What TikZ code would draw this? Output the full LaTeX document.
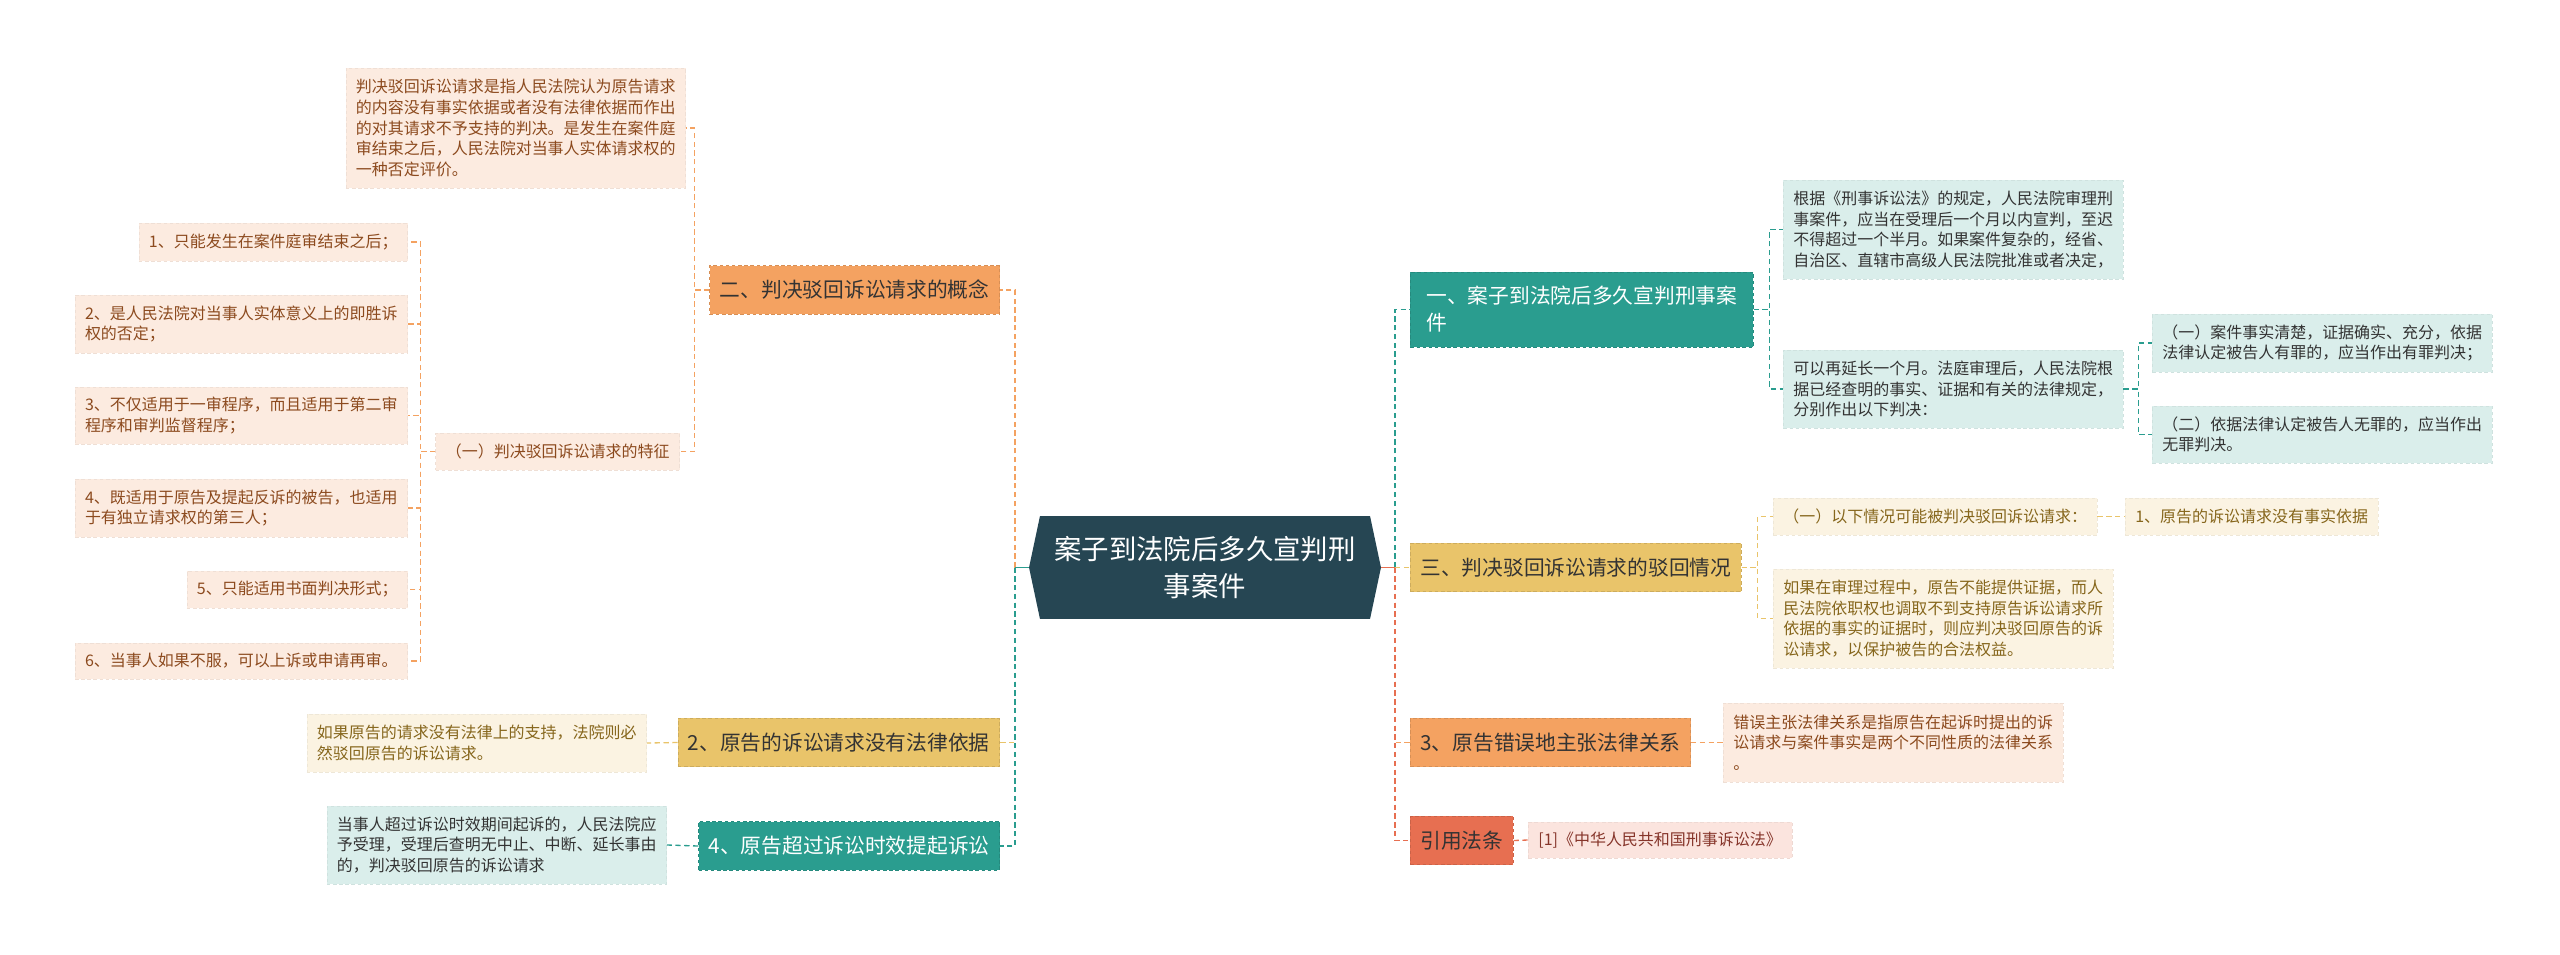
\documentclass[tikz,border=0pt]{standalone}
\usepackage{fontspec}
\setmainfont{Noto Sans CJK SC}
\usepackage{xcolor}
\usepackage{tikz}
\usetikzlibrary{calc}
\usetikzlibrary{shapes.symbols}
\definecolor{cdeep}{HTML}{264653}
\definecolor{cteal}{HTML}{2A9D8F}
\definecolor{cyellow}{HTML}{E9C46A}
\definecolor{corange}{HTML}{F4A261}
\definecolor{cred}{HTML}{E76F51}
\definecolor{lteal}{HTML}{DAEEEB}
\definecolor{lyellow}{HTML}{FBF3E2}
\definecolor{lorange}{HTML}{FCEBE0}
\definecolor{lred}{HTML}{FBE4DE}
\definecolor{tdark}{HTML}{333333}
\definecolor{torange}{HTML}{8C4A1E}
\definecolor{tyellow}{HTML}{86661C}
\definecolor{tred}{HTML}{86352A}
\newcommand{\rootfont}{\fontsize{15.6pt}{21.6pt}\selectfont}
\newcommand{\branchfont}{\fontsize{11.8pt}{15.4pt}\selectfont}
\newcommand{\leaffont}{\fontsize{9.1pt}{11.7pt}\selectfont}
\tikzstyle{topic} = [shape=signal, signal to=west and east,
	signal pointer angle=156,
	fill=cdeep, text=white, font=\rootfont, align=center,
	minimum width=7.04cm,
	minimum height=2.06cm, inner sep=0pt]
\tikzset{
	branch/.style={fill=#1, draw=#1!88!black, dash pattern=on 2pt off 1.5pt,
		line width=0.4pt, text=tdark, font=\branchfont, align=left,
		inner xsep=0.2cm, inner ysep=0pt, minimum height=0.97cm},
	leaf/.style 2 args={fill=#1, draw=#1!95!black, dash pattern=on 2pt off 1.5pt,
		line width=0.4pt, text=#2, font=\leaffont, align=left,
		inner xsep=0.2cm, inner ysep=0pt},
	link/.style={draw=#1, line width=1.1pt, dash pattern=on 3pt off 2pt},
	sublink/.style={draw=#1, line width=0.75pt, dash pattern=on 3pt off 2pt}
}

\begin{document}
\begin{tikzpicture}[x=0.02cm, y=-0.02cm]
	\fill [white] (0,0) rectangle (2560,954);
	\useasboundingbox (0,0) rectangle (2560,954);
	
	\node (root) [topic] at (1205,567.5) {案子到法院后多久宣判刑\\事案件};
	
	% left side
	\node (con) [branch=corange, anchor=east, minimum width=5.8cm] at (1000,290) {二、判决驳回诉讼请求的概念};
	\node (def) [leaf={lorange}{torange}, anchor=east, minimum height=2.4cm] at (686,128)
		{判决驳回诉讼请求是指人民法院认为原告请求\\的内容没有事实依据或者没有法律依据而作出\\的对其请求不予支持的判决。是发生在案件庭\\审结束之后，人民法院对当事人实体请求权的\\一种否定评价。};
	\node (feat) [leaf={lorange}{torange}, anchor=east, minimum height=0.74cm] at (680,451.5) {（一）判决驳回诉讼请求的特征};
	\node (f1) [leaf={lorange}{torange}, anchor=east, minimum height=0.76cm] at (408,242) {1、只能发生在案件庭审结束之后；};
	\node (f2) [leaf={lorange}{torange}, anchor=east, minimum height=1.16cm] at (408,324) {2、是人民法院对当事人实体意义上的即胜诉\\权的否定；};
	\node (f3) [leaf={lorange}{torange}, anchor=east, minimum height=1.14cm] at (408,415.5) {3、不仅适用于一审程序，而且适用于第二审\\程序和审判监督程序；};
	\node (f4) [leaf={lorange}{torange}, anchor=east, minimum height=1.16cm] at (408,508) {4、既适用于原告及提起反诉的被告，也适用\\于有独立请求权的第三人；};
	\node (f5) [leaf={lorange}{torange}, anchor=east, minimum height=0.74cm] at (408,589.5) {5、只能适用书面判决形式；};
	\node (f6) [leaf={lorange}{torange}, anchor=east, minimum height=0.72cm] at (408,661) {6、当事人如果不服，可以上诉或申请再审。};
	
	\node (b2) [branch=cyellow, anchor=east] at (1000,742.5) {2、原告的诉讼请求没有法律依据};
	\node (b2a) [leaf={lyellow}{tyellow}, anchor=east, minimum height=1.16cm] at (647,743)
		{如果原告的请求没有法律上的支持，法院则必\\然驳回原告的诉讼请求。};
	\node (b4) [branch=cteal, text=white, anchor=east] at (1000,846) {4、原告超过诉讼时效提起诉讼};
	\node (b4a) [leaf={lteal}{tdark}, anchor=east, minimum height=1.56cm] at (667,845)
		{当事人超过诉讼时效期间起诉的，人民法院应\\予受理，受理后查明无中止、中断、延长事由\\的，判决驳回原告的诉讼请求};
	
	% right side
	\node (b1) [branch=cteal, text=white, anchor=west, minimum width=6.86cm, minimum height=1.5cm] at (1410,309.5)
		{一、案子到法院后多久宣判刑事案\\件};
	\node (b1a) [leaf={lteal}{tdark}, anchor=west, minimum height=1.98cm] at (1783,229.5)
		{根据《刑事诉讼法》的规定，人民法院审理刑\\事案件，应当在受理后一个月以内宣判，至迟\\不得超过一个半月。如果案件复杂的，经省、\\自治区、直辖市高级人民法院批准或者决定，};
	\node (b1b) [leaf={lteal}{tdark}, anchor=west, minimum height=1.56cm] at (1783,389)
		{可以再延长一个月。法庭审理后，人民法院根\\据已经查明的事实、证据和有关的法律规定，\\分别作出以下判决：};
	\node (b1b1) [leaf={lteal}{tdark}, anchor=west, minimum height=1.16cm] at (2152,343)
		{（一）案件事实清楚，证据确实、充分，依据\\法律认定被告人有罪的，应当作出有罪判决；};
	\node (b1b2) [leaf={lteal}{tdark}, anchor=west, minimum height=1.14cm] at (2152,434.5)
		{（二）依据法律认定被告人无罪的，应当作出\\无罪判决。};
	
	\node (b3) [branch=cyellow, anchor=west] at (1410,567.5) {三、判决驳回诉讼请求的驳回情况};
	\node (b3a) [leaf={lyellow}{tyellow}, anchor=west, minimum height=0.74cm] at (1773,516.5) {（一）以下情况可能被判决驳回诉讼请求：};
	\node (b3a1) [leaf={lyellow}{tyellow}, anchor=west, minimum height=0.74cm] at (2125,516.5) {1、原告的诉讼请求没有事实依据};
	\node (b3b) [leaf={lyellow}{tyellow}, anchor=west, minimum height=1.98cm] at (1773,618.5)
		{如果在审理过程中，原告不能提供证据，而人\\民法院依职权也调取不到支持原告诉讼请求所\\依据的事实的证据时，则应判决驳回原告的诉\\讼请求，以保护被告的合法权益。};
	
	\node (b5) [branch=corange, anchor=west] at (1410,742.5) {3、原告错误地主张法律关系};
	\node (b5a) [leaf={lorange}{torange}, anchor=west, minimum height=1.58cm] at (1723,742.5)
		{错误主张法律关系是指原告在起诉时提出的诉\\讼请求与案件事实是两个不同性质的法律关系\\。};
	
	\node (ref) [branch=cred, anchor=west] at (1410,840.5) {引用法条};
	\node (refa) [leaf={lred}{tred}, anchor=west, minimum height=0.72cm] at (1528,840) {[1]《中华人民共和国刑事诉讼法》};
	
	% main links
	\coordinate (lj) at (1015,567.5);
	\coordinate (rj) at (1395,567.5);
	\draw [link=corange] (lj) |- (con.east);
	\draw [link=cyellow] (lj) |- (b2.east);
	\draw [link=cteal] (lj) |- (b4.east);
	\draw [cteal, line width=1.1pt] (root.west) -- (lj);
	\draw [link=cteal] (rj) |- (b1.west);
	\draw [link=cyellow] (rj) -- (b3.west);
	\draw [link=corange] (rj) |- (b5.west);
	\draw [link=cred] (rj) |- (ref.west);
	\draw [cred, line width=1.1pt] (root.east) -- (rj);
	
	% sub links
	\draw [sublink=corange] (con.west) -- ++(-15,0) |- (def.east);
	\draw [sublink=corange] (con.west) -- ++(-15,0) |- (feat.east);
	\draw [sublink=corange] (feat.west) -- ++(-15,0) |- (f1.east);
	\draw [sublink=corange] (feat.west) -- ++(-15,0) |- (f2.east);
	\draw [sublink=corange] (feat.west) -- ++(-15,0) |- (f3.east);
	\draw [sublink=corange] (feat.west) -- ++(-15,0) |- (f4.east);
	\draw [sublink=corange] (feat.west) -- ++(-15,0) |- (f5.east);
	\draw [sublink=corange] (feat.west) -- ++(-15,0) |- (f6.east);
	\draw [sublink=cyellow] (b2.west) -- (b2a.east);
	\draw [sublink=cteal] (b4.west) -- (b4a.east);
	\draw [sublink=cteal] (b1.east) -- ++(16,0) |- (b1a.west);
	\draw [sublink=cteal] (b1.east) -- ++(16,0) |- (b1b.west);
	\draw [sublink=cteal] (b1b.east) -- ++(15,0) |- (b1b1.west);
	\draw [sublink=cteal] (b1b.east) -- ++(15,0) |- (b1b2.west);
	\draw [sublink=cyellow] (b3.east) -- ++(16,0) |- (b3a.west);
	\draw [sublink=cyellow] (b3.east) -- ++(16,0) |- (b3b.west);
	\draw [sublink=cyellow] (b3a.east) -- (b3a1.west);
	\draw [sublink=corange] (b5.east) -- (b5a.west);
	\draw [sublink=cred] (ref.east) -- (refa.west);
\end{tikzpicture}
\end{document}
